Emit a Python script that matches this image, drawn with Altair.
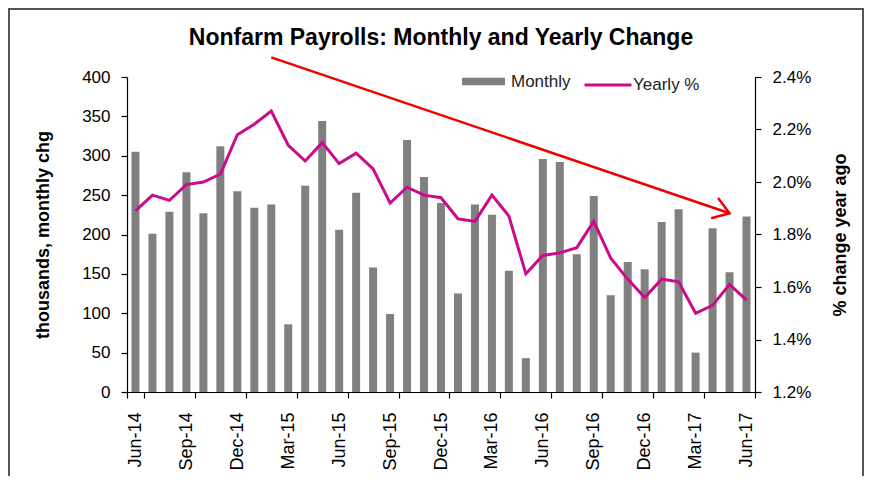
import altair as alt
import pandas as pd

months = ["Jun-14", "Jul-14", "Aug-14", "Sep-14", "Oct-14", "Nov-14", "Dec-14",
          "Jan-15", "Feb-15", "Mar-15", "Apr-15", "May-15", "Jun-15", "Jul-15",
          "Aug-15", "Sep-15", "Oct-15", "Nov-15", "Dec-15", "Jan-16", "Feb-16",
          "Mar-16", "Apr-16", "May-16", "Jun-16", "Jul-16", "Aug-16", "Sep-16",
          "Oct-16", "Nov-16", "Dec-16", "Jan-17", "Feb-17", "Mar-17", "Apr-17",
          "May-17", "Jun-17"]
monthly = [305, 201, 229, 279, 227, 312, 255, 234, 238, 86, 262, 344, 206, 253,
           158, 99, 320, 273, 240, 125, 238, 225, 154, 43, 296, 292, 175, 249,
           123, 165, 156, 216, 232, 50, 208, 152, 223]
yearly = [1.89, 1.95, 1.93, 1.99, 2.00, 2.03, 2.18, 2.22, 2.27, 2.14, 2.08, 2.15,
          2.07, 2.11, 2.05, 1.92, 1.98, 1.95, 1.94, 1.86, 1.85, 1.95, 1.87, 1.65,
          1.72, 1.73, 1.75, 1.85, 1.71, 1.63, 1.56, 1.63, 1.62, 1.50, 1.53, 1.61,
          1.55]
tick_months = months[::3]
left_ticks = [0, 50, 100, 150, 200, 250, 300, 350, 400]
right_ticks = [1.2, 1.4, 1.6, 1.8, 2.0, 2.2, 2.4]
arrow_months = ["Feb-15", "May-17"]
arrow_values = [425, 227]

FONT = "Liberation Sans"
RED = "#F00000"
GREY = "#808080"
MAGENTA = "#CC0A8C"

bars_df = pd.DataFrame({"month": months, "value": monthly, "series": "Monthly"})
line_df = pd.DataFrame({"month": months, "value": yearly, "series": "Yearly %"})
arrow_df = pd.DataFrame({"month": arrow_months, "value": arrow_values, "order": [0, 1]})
head_df = arrow_df.iloc[[1]]
frame_df = pd.DataFrame({"k": [0]})

x_enc = alt.X(
    "month:N", sort=months,
    scale=alt.Scale(domain=months, paddingInner=0, paddingOuter=0),
    axis=alt.Axis(values=tick_months, labelAngle=270, tickBand="extent", title=None,
                  labelFontSize=18, labelPadding=14, tickSize=6, grid=False),
)

fill_enc = alt.Fill(
    "series:N",
    scale=alt.Scale(domain=["Monthly"], range=[GREY]),
    legend=alt.Legend(
        title=None, orient="none", legendX=335, legendY=-17, direction="horizontal",
        symbolType="M-1,-0.17H1V0.17H-1Z", symbolSize=1849, symbolStrokeWidth=0,
        labelFontSize=17, labelFont=FONT, labelColor="#222222", labelOffset=6, padding=0,
    ),
)
stroke_enc = alt.Stroke(
    "series:N",
    scale=alt.Scale(domain=["Yearly %"], range=[MAGENTA]),
    legend=alt.Legend(
        title=None, orient="none", legendX=456, legendY=-17, direction="horizontal",
        symbolType="stroke", symbolSize=2209, symbolStrokeWidth=3,
        labelFontSize=17, labelFont=FONT, labelColor="#222222", labelOffset=0, padding=0,
    ),
)

y_left = alt.Y(
    "value:Q", scale=alt.Scale(domain=[0, 400], nice=False),
    axis=alt.Axis(values=left_ticks, title="thousands, monthly chg", titlePadding=29,
                  labelPadding=11, tickSize=6, grid=False, labelOverlap=False),
)

bars = alt.Chart(bars_df).mark_bar(size=8).encode(x=x_enc, y=y_left, fill=fill_enc)

arrow = alt.Chart(arrow_df).mark_line(color=RED, strokeWidth=2.5, clip=False).encode(
    x=x_enc, y=y_left, order="order:Q"
)
head = alt.Chart(head_df).mark_point(
    shape="M-0.83,-0.56L0,0L-0.83,0.56", size=1444, angle=18.9, filled=False,
    strokeWidth=2.5, color=RED, opacity=1, clip=False,
).encode(x=x_enc, y=y_left)

inner = alt.layer(bars, arrow, head)

y_right = alt.Y(
    "value:Q", scale=alt.Scale(domain=[1.2, 2.4], nice=False),
    axis=alt.Axis(orient="right", values=right_ticks,
                  labelExpr="format(datum.value, '.1f') + '%'",
                  title="% change year ago", titleAngle=270, titleBaseline="top",
                  titlePadding=21, labelPadding=11, tickSize=6, grid=False),
)
line = alt.Chart(line_df).mark_line(strokeWidth=3).encode(x=x_enc, y=y_right, stroke=stroke_enc)

frame = alt.Chart(frame_df).mark_rect(fillOpacity=0, stroke="#555555", strokeWidth=2).encode(
    x=alt.value(-118), x2=alt.value(736), y=alt.value(-68), y2=alt.value(500)
)

chart = alt.layer(frame, inner, line).resolve_scale(y="independent").properties(
    width=628, height=315,
    background="white",
    autosize=alt.AutoSizeParams(type="none"),
    padding={"left": 119, "top": 69, "right": 109, "bottom": 84},
    title=alt.Title("Nonfarm Payrolls: Monthly and Yearly Change", font=FONT, fontSize=23,
                    fontWeight="bold", color="black", anchor="middle", offset=0, dy=60,
                    baseline="alphabetic"),
).configure_view(stroke=None).configure_axis(
    labelFont=FONT, titleFont=FONT, labelColor="black", titleColor="black",
    domainColor="black", tickColor="black", labelFontSize=17, titleFontSize=18,
    titleFontWeight="bold", domainWidth=1.2, tickWidth=1.2,
)

chart.save("out.html", embed_options={"renderer": "svg", "actions": False})
